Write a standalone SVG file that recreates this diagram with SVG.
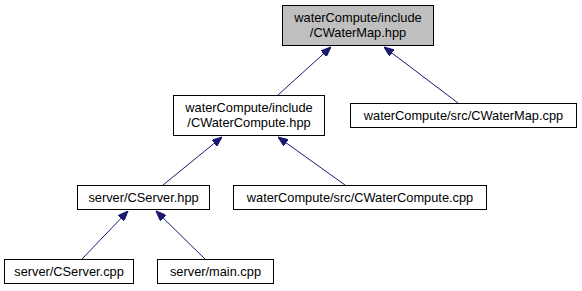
<svg xmlns="http://www.w3.org/2000/svg" width="582" height="291" viewBox="0 0 582 291">
  <style>
    .node rect { fill: #ffffff; stroke: #000000; stroke-width: 1; }
    .node.root rect { fill: #bfbfbf; }
    .node text { font-family: "Liberation Sans", Arial, sans-serif; font-size: 12.8px; fill: #000000; text-anchor: middle; }
    .edge { stroke: #191970; stroke-width: 1; fill: none; }
  </style>
  <defs>
    <marker id="arrow" viewBox="0 0 10 8" refX="10" refY="4" markerWidth="10" markerHeight="8" markerUnits="userSpaceOnUse" orient="auto">
      <path d="M0,0 L10,4 L0,8 Z" fill="#191970" stroke="#191970" stroke-width="1"/>
    </marker>
  </defs>

  <rect width="582" height="291" fill="#ffffff"/>

  <!-- include edges: arrow points at the included header -->
  <g id="edges">
    <line class="edge" x1="278" y1="95" x2="331" y2="47" marker-end="url(#arrow)"/>
    <line class="edge" x1="458" y1="103" x2="384" y2="47" marker-end="url(#arrow)"/>
    <line class="edge" x1="163" y1="185" x2="222" y2="137" marker-end="url(#arrow)"/>
    <line class="edge" x1="345" y1="185" x2="278" y2="137" marker-end="url(#arrow)"/>
    <line class="edge" x1="82" y1="259" x2="128" y2="211" marker-end="url(#arrow)"/>
    <line class="edge" x1="205" y1="259" x2="156" y2="211" marker-end="url(#arrow)"/>
  </g>

  <g id="CWaterMap_hpp" class="node root">
    <rect x="282.5" y="5.5" width="151" height="40"/>
    <text x="358" y="22">waterCompute/include</text>
    <text x="358" y="37">/CWaterMap.hpp</text>
  </g>

  <g id="CWaterCompute_hpp" class="node">
    <rect x="173.5" y="95.5" width="151" height="40"/>
    <text x="249" y="112">waterCompute/include</text>
    <text x="249" y="127">/CWaterCompute.hpp</text>
  </g>

  <g id="CWaterMap_cpp" class="node">
    <rect x="350.5" y="103.5" width="226" height="24"/>
    <text x="463.5" y="120">waterCompute/src/CWaterMap.cpp</text>
  </g>

  <g id="CServer_hpp" class="node">
    <rect x="77.5" y="185.5" width="132" height="24"/>
    <text x="143.5" y="202">server/CServer.hpp</text>
  </g>

  <g id="CWaterCompute_cpp" class="node">
    <rect x="233.5" y="185.5" width="253" height="24"/>
    <text x="360" y="202">waterCompute/src/CWaterCompute.cpp</text>
  </g>

  <g id="CServer_cpp" class="node">
    <rect x="4.5" y="259.5" width="129" height="24"/>
    <text x="69" y="276">server/CServer.cpp</text>
  </g>

  <g id="main_cpp" class="node">
    <rect x="157.5" y="259.5" width="116" height="24"/>
    <text x="215.5" y="276">server/main.cpp</text>
  </g>
</svg>
